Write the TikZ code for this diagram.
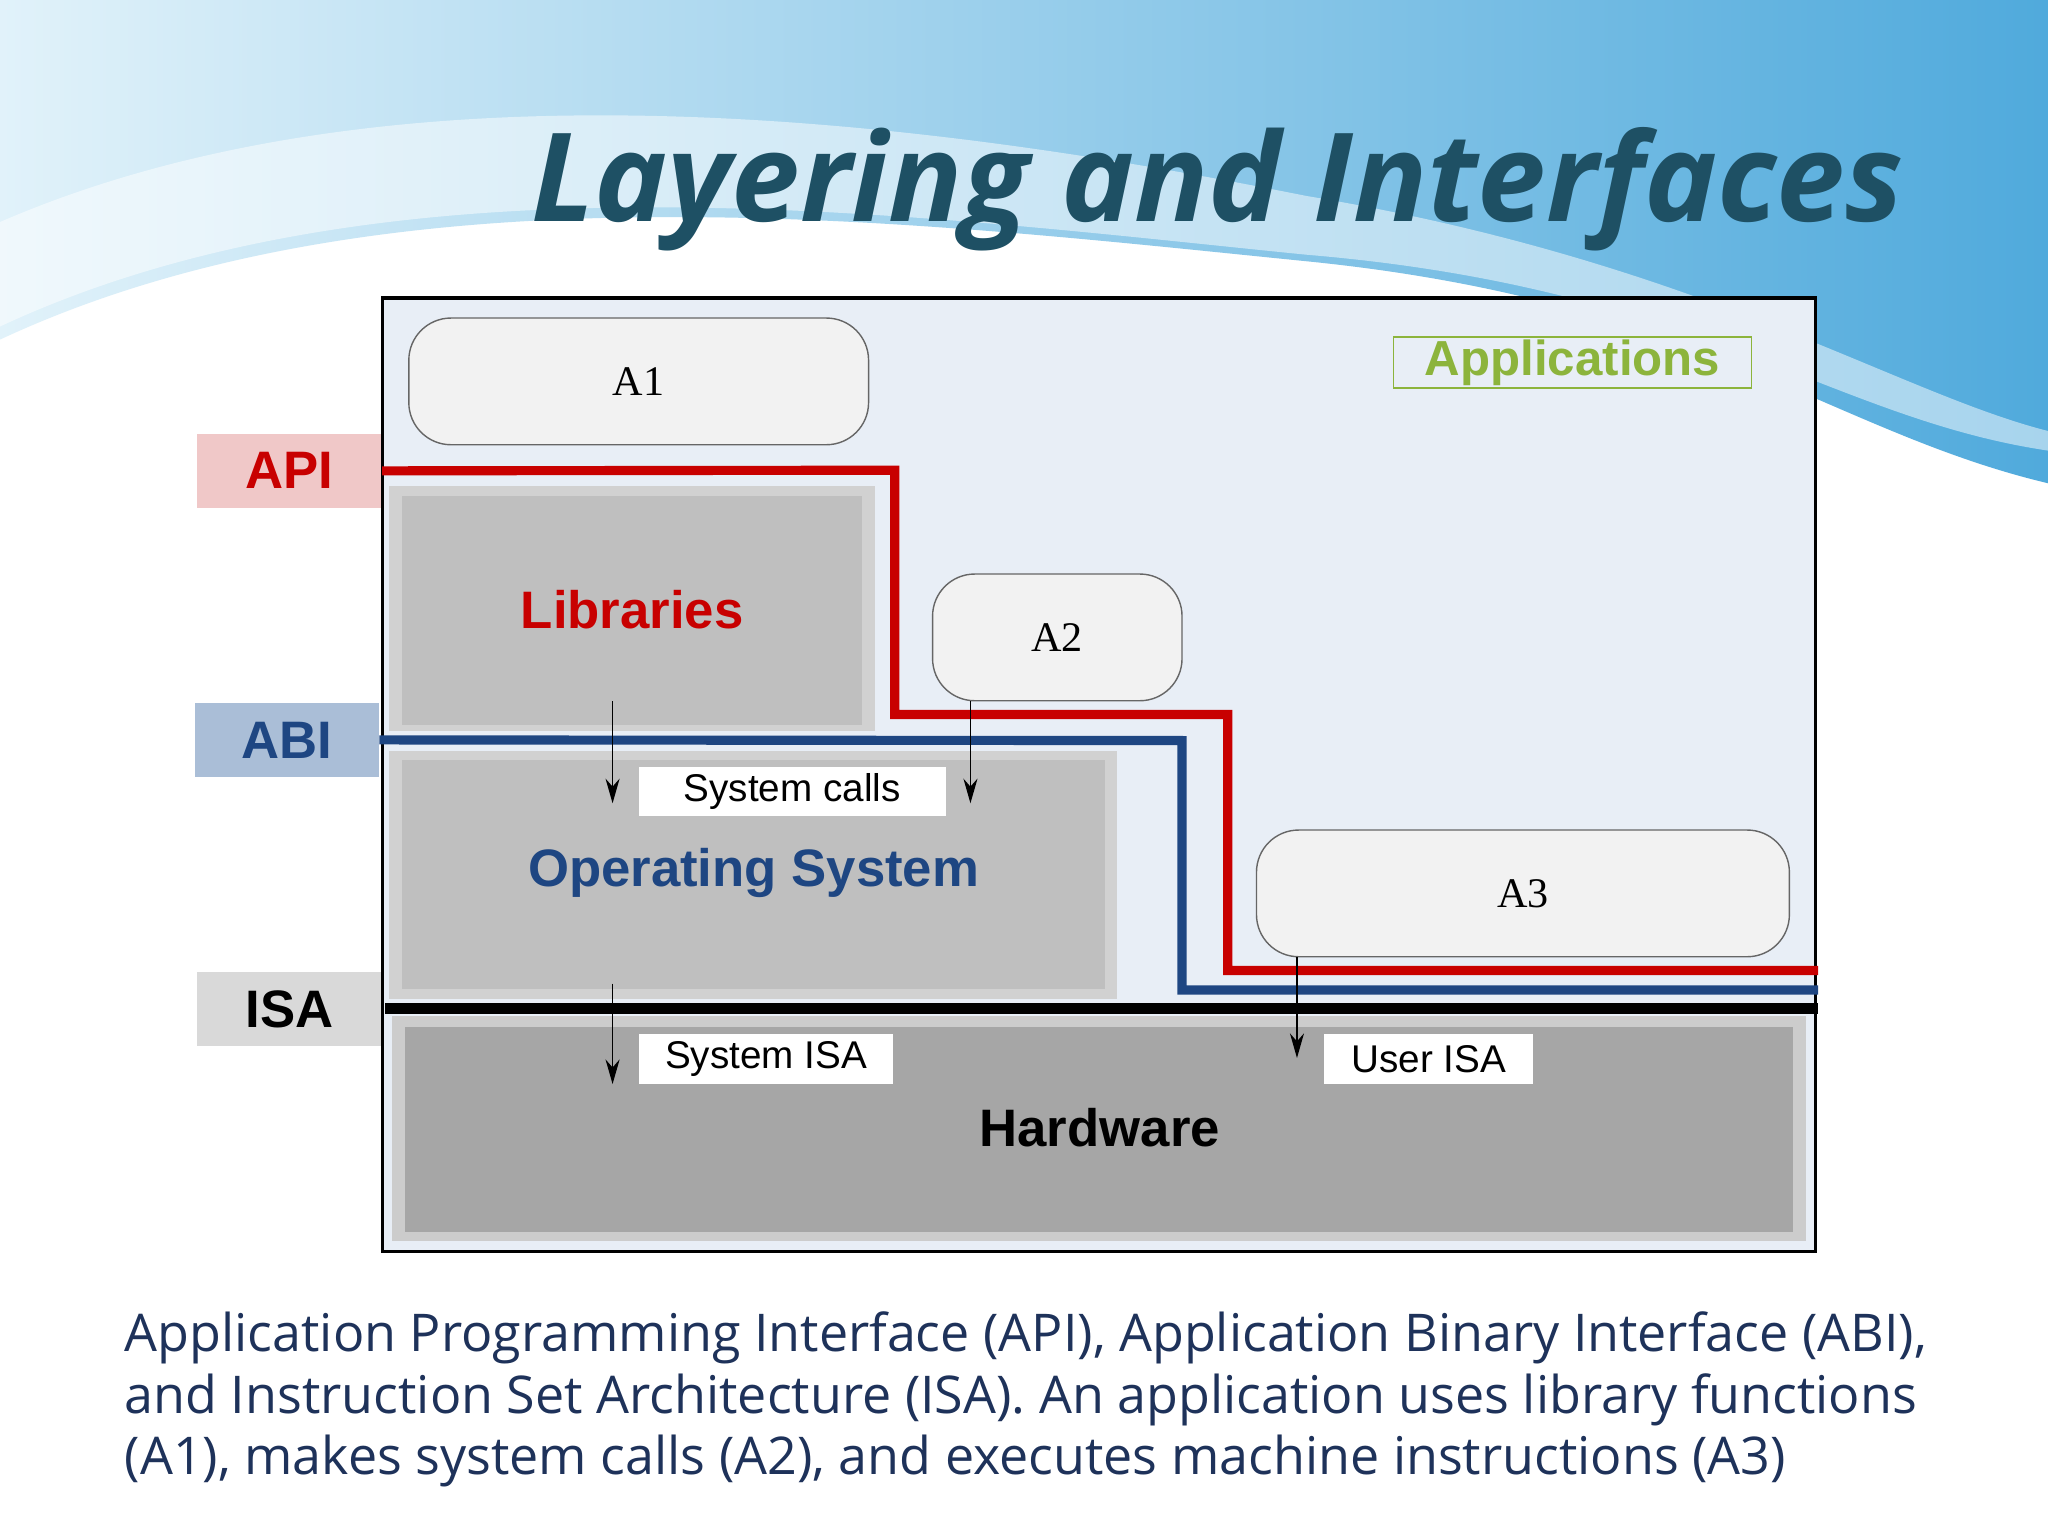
\documentclass[tikz,border=0pt]{standalone}
\usepackage{fontspec}
\setmainfont{Liberation Sans}
\newfontfamily\osans{Open Sans}
\newfontfamily\serifA{Liberation Serif}
\usetikzlibrary{arrows.meta}
\definecolor{bgbox}{RGB}{232,238,246}
\definecolor{apired}{RGB}{200,0,0}
\definecolor{abiblue}{RGB}{30,70,130}
\definecolor{titlec}{RGB}{30,80,100}
\definecolor{appg}{RGB}{140,180,60}
\definecolor{capc}{RGB}{30,50,90}
\tikzset{
  app/.style={draw=black!60,fill=black!5,rounded corners=12pt},
  lbl/.style={font=\fontsize{11}{13}\selectfont},
  big/.style={font=\bfseries\fontsize{15}{18}\selectfont},
  side/.style={font=\bfseries\fontsize{15}{18}\selectfont},
  arr/.style={-{Stealth[length=7pt,width=4pt]},thin},
  captext/.style={anchor=base west,text=capc,font=\osans\fontsize{14.8}{18}\selectfont,inner sep=0pt}
}
\begin{document}
\begin{tikzpicture}[x=0.013061cm,y=-0.013061cm]
\useasboundingbox (0,0) rectangle (1568,1176);
\fill[white] (0,0) rectangle (1568,1176);
% wave
\shade[shading angle=300,left color={rgb,255:red,225;green,242;blue,250},right color={rgb,255:red,80;green,170;blue,220}]
 (0,0) -- (1568,0) -- (1568,370) .. controls (1400,330) and (1300,230) .. (1000,200)
 .. controls (700,170) and (300,120) .. (0,260) -- cycle;
\fill[white,opacity=0.5] (0,170) .. controls (300,40) and (700,90) .. (1000,150)
 .. controls (1300,200) and (1450,300) .. (1568,330) -- (1568,345) .. controls (1400,320) and (1300,220) .. (1000,195)
 .. controls (700,165) and (300,110) .. (0,250) -- cycle;
\node[text=titlec,font=\osans\bfseries\itshape\fontsize{35}{40}\selectfont] (title) at (932,145) {Layering and Interfaces};
% main box
\node[draw=black,fill=bgbox,minimum width=1097*0.013061cm,minimum height=730*0.013061cm,inner sep=0pt,line width=1pt] (main) at (841.5,593) {};
% libraries
\fill[black!18] (298,372) rectangle (670,560);
\fill[black!25] (308,380) rectangle (660,555);
\node[big,text=apired] (lib) at (484,467) {Libraries};
% OS
\fill[black!18] (298,575) rectangle (855,765);
\fill[black!25] (308,582) rectangle (846,757);
\node[big,text=abiblue] (os) at (577,668) {Operating System};
% hardware
\fill[black!20] (300,778) rectangle (1383,950);
\fill[black!35] (310,786) rectangle (1373,943);
\node[big] (hw) at (842,863) {Hardware};
% apps
\node[app,minimum width=352*0.013061cm,minimum height=97*0.013061cm,font=\serifA\fontsize{12}{14}\selectfont] (a1) at (489,292) {A1};
\node[app,minimum width=191*0.013061cm,minimum height=97*0.013061cm,font=\serifA\fontsize{12}{14}\selectfont] (a2) at (809.5,488) {A2};
\node[app,minimum width=408*0.013061cm,minimum height=97*0.013061cm,font=\serifA\fontsize{12}{14}\selectfont] (a3) at (1166,684) {A3};
\node[draw=appg,text=appg,font=\bfseries\fontsize{14}{16}\selectfont,minimum width=274*0.013061cm,minimum height=39*0.013061cm,inner sep=0pt] (apps) at (1204,277.5) {Applications};
% side labels
\node[fill={rgb,255:red,240;green,200;blue,200},text=apired,side,minimum width=141*0.013061cm,minimum height=57*0.013061cm,inner sep=0pt] (api) at (221.5,360.5) {API};
\node[fill={rgb,255:red,170;green,190;blue,215},text=abiblue,side,minimum width=141*0.013061cm,minimum height=57*0.013061cm,inner sep=0pt] (abi) at (219.5,566.5) {ABI};
\node[fill=black!15,side,minimum width=141*0.013061cm,minimum height=57*0.013061cm,inner sep=0pt] (isa) at (221.5,772.5) {ISA};
% interface lines
\coordinate (rEnd) at (1392,743);
\coordinate (bEnd) at (1392,758);
\coordinate (kEnd) at (1392,772);
\draw[apired,line width=2.6pt] (api.east) -- (685,360) -- (685,547) -- (940,547) -- (940,743) -- (rEnd);
\draw[abiblue,line width=2.6pt] (abi.east) -- (905,567) -- (905,758) -- (bEnd);
\draw[black,line width=3pt] (295,772) -- (kEnd);
% arrows
\coordinate (l1) at (469,537); \coordinate (l2) at (469,615);
\coordinate (l3) at (469,753); \coordinate (l4) at (469,830);
\coordinate (m2) at (743,615); \coordinate (u2) at (993,810);
\draw[arr] (l1) -- (l2);
\draw[arr] (a2.south -| m2) -- (m2);
\draw[arr] (l3) -- (l4);
\draw[arr] (a3.south -| u2) -- (u2);
\node[fill=white,lbl,minimum width=235*0.013061cm,minimum height=38*0.013061cm,inner sep=0pt] (sc) at (606.5,606) {System calls};
\node[fill=white,lbl,minimum width=195*0.013061cm,minimum height=38*0.013061cm,inner sep=0pt] (sisa) at (586.5,811) {System ISA};
\node[fill=white,lbl,minimum width=160*0.013061cm,minimum height=38*0.013061cm,inner sep=0pt] (uisa) at (1094,811) {User ISA};
% caption
\node[captext] (c1) at (95,1035) {Application Programming Interface (API), Application Binary Interface (ABI),};
\node[captext] (c2) at (95,1082) {and Instruction Set Architecture (ISA). An application uses library functions};
\node[captext] (c3) at (95,1129) {(A1), makes system calls (A2), and executes machine instructions (A3)};
\end{tikzpicture}
\end{document}
